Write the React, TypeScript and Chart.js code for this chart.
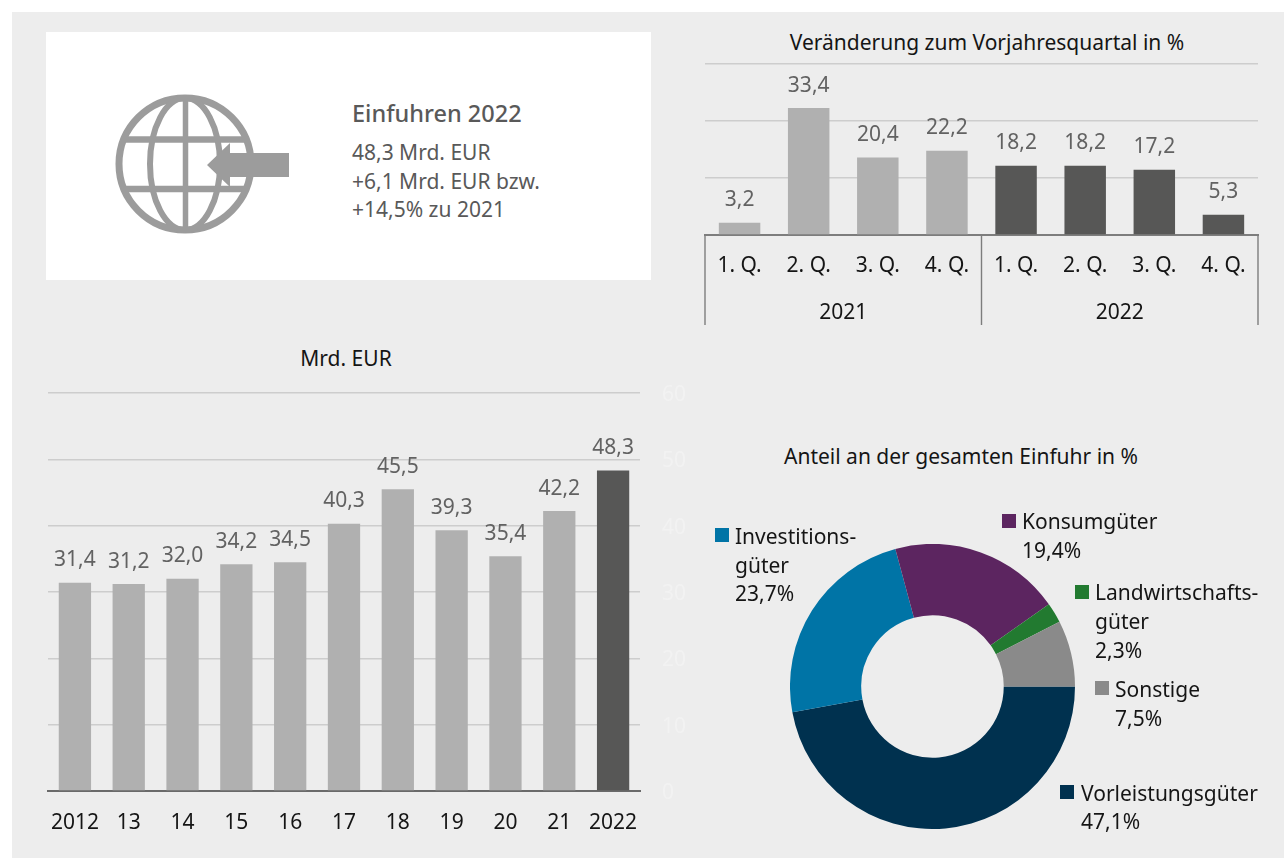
import React, { useEffect, useRef } from "react";
import { Chart, registerables } from "chart.js";

Chart.register(...registerables);

const yearLabels = ["2012", "13", "14", "15", "16", "17", "18", "19", "20", "21", "2022"];
const yearValues = [31.4, 31.2, 32.0, 34.2, 34.5, 40.3, 45.5, 39.3, 35.4, 42.2, 48.3];
const quarterLabels = ["1. Q.", "2. Q.", "3. Q.", "4. Q.", "1. Q.", "2. Q.", "3. Q.", "4. Q."];
const quarterGroups = ["2021", "2022"];
const quarterValues = [3.2, 33.4, 20.4, 22.2, 18.2, 18.2, 17.2, 5.3];
const shareLabels = ["Vorleistungsgüter", "Investitionsgüter", "Konsumgüter", "Landwirtschaftsgüter", "Sonstige"];
const shareValues = [47.1, 23.7, 19.4, 2.3, 7.5];

const FONT = '"Noto Sans", sans-serif';
const SIZE = 21;
const LIGHT = "#b0b0b0";
const DARK = "#575756";
const GRID = "#cdcdcd";
const TEXT = "#151515";
const SHARE_COLORS = ["#00314f", "#0074a6", "#5c2560", "#227a30", "#8a8a8a"];

const fmt = (v: number) => v.toFixed(1).replace(".", ",");

const valueLabels = {
  id: "valueLabels",
  afterDatasetsDraw(chart: any) {
    const { ctx } = chart;
    const meta = chart.getDatasetMeta(0);
    ctx.save();
    ctx.font = `${SIZE}px ${FONT}`;
    ctx.fillStyle = "#626262";
    ctx.textAlign = "center";
    ctx.textBaseline = "middle";
    meta.data.forEach((bar: any, i: number) => {
      ctx.fillText(fmt(chart.data.datasets[0].data[i]), bar.x, bar.y - 22.5);
    });
    ctx.restore();
  },
};

const groupSeparators = {
  id: "groupSeparators",
  afterDraw(chart: any) {
    const { ctx, chartArea } = chart;
    const x2 = chart.scales.x2;
    const xs = [chartArea.left, (chartArea.left + chartArea.right) / 2, chartArea.right];
    ctx.save();
    ctx.strokeStyle = "#7d7d7d";
    ctx.lineWidth = 1.4;
    xs.forEach((x) => {
      ctx.beginPath();
      ctx.moveTo(x, chartArea.bottom);
      ctx.lineTo(x, x2.bottom);
      ctx.stroke();
    });
    ctx.restore();
  },
};

const noScalePadding = (s: any) => {
  s.paddingTop = 0;
  s.paddingBottom = 0;
  s.paddingLeft = 0;
  s.paddingRight = 0;
};
const fixedHeight = (h: number) => (s: any) => {
  s.height = h;
  noScalePadding(s);
};
const fixedWidth = (w: number) => (s: any) => {
  s.width = w;
  noScalePadding(s);
};

function YearChart() {
  const ref = useRef<HTMLCanvasElement>(null);
  useEffect(() => {
    const chart = new Chart(ref.current!, {
      type: "bar",
      data: {
        labels: yearLabels,
        datasets: [
          {
            data: yearValues,
            backgroundColor: yearValues.map((_, i) => (i === yearValues.length - 1 ? DARK : LIGHT)),
            categoryPercentage: 0.6,
            barPercentage: 1,
          },
        ],
      },
      options: {
        responsive: false,
        animation: false,
        events: [],
        layout: { padding: { left: 8, top: 12, right: 0, bottom: 0 } },
        plugins: { legend: { display: false }, title: { display: false }, tooltip: { enabled: false } },
        scales: {
          x: {
            grid: { display: false, drawTicks: false },
            border: { color: "#6a6a6a", width: 2 },
            ticks: { color: TEXT, font: { family: FONT, size: SIZE }, padding: 19, maxRotation: 0, autoSkip: false },
            afterFit: fixedHeight(54),
          },
          y: {
            position: "right",
            min: 0,
            max: 60,
            grid: { color: GRID, drawTicks: false, lineWidth: 1.5 },
            border: { display: false },
            ticks: { stepSize: 10, color: "#f2f2f2", font: { family: FONT, size: SIZE }, padding: 22, labelOffset: 2 },
            afterFit: fixedWidth(60),
          },
        },
      },
      plugins: [valueLabels],
    } as any);
    return () => chart.destroy();
  }, []);
  return <canvas ref={ref} width={660} height={464} style={{ position: "absolute", left: 40, top: 381 }} />;
}

function QuarterChart() {
  const ref = useRef<HTMLCanvasElement>(null);
  useEffect(() => {
    const chart = new Chart(ref.current!, {
      type: "bar",
      data: {
        labels: quarterLabels,
        datasets: [
          {
            data: quarterValues,
            backgroundColor: quarterValues.map((_, i) => (i < 4 ? LIGHT : DARK)),
            categoryPercentage: 0.6,
            barPercentage: 1,
          },
        ],
      },
      options: {
        responsive: false,
        animation: false,
        events: [],
        layout: { padding: { left: 8, top: 8, right: 8, bottom: 5 } },
        plugins: { legend: { display: false }, title: { display: false }, tooltip: { enabled: false } },
        scales: {
          x: {
            grid: { display: false, drawTicks: false },
            border: { color: "#7d7d7d", width: 2 },
            ticks: { color: TEXT, font: { family: FONT, size: SIZE }, padding: 18, maxRotation: 0, autoSkip: false },
            afterFit: fixedHeight(45),
          },
          x2: {
            type: "category",
            labels: quarterGroups,
            position: "bottom",
            grid: { display: false, drawTicks: false },
            border: { display: false },
            ticks: { color: TEXT, font: { family: FONT, size: SIZE }, padding: 20, maxRotation: 0 },
            afterFit: fixedHeight(45),
          },
          y: {
            min: 0,
            max: 45,
            grid: { color: GRID, drawTicks: false, lineWidth: 1.5 },
            border: { display: false },
            ticks: { stepSize: 15, display: false },
          },
        },
      },
      plugins: [valueLabels, groupSeparators],
    } as any);
    return () => chart.destroy();
  }, []);
  return <canvas ref={ref} width={569} height={274} style={{ position: "absolute", left: 697, top: 56 }} />;
}

function ShareChart() {
  const ref = useRef<HTMLCanvasElement>(null);
  useEffect(() => {
    const chart = new Chart(ref.current!, {
      type: "doughnut",
      data: {
        labels: shareLabels,
        datasets: [{ data: shareValues, backgroundColor: SHARE_COLORS, borderWidth: 0 }],
      },
      options: {
        responsive: false,
        animation: false,
        events: [],
        rotation: 90,
        cutout: "50%",
        plugins: { legend: { display: false }, title: { display: false }, tooltip: { enabled: false } },
      },
    } as any);
    return () => chart.destroy();
  }, []);
  return <canvas ref={ref} width={285} height={285} style={{ position: "absolute", left: 790, top: 544 }} />;
}

function Text({ x, cy, children, center, color = TEXT, size = SIZE, weight = 400 }: any) {
  return (
    <div
      style={{
        position: "absolute",
        left: center ? x - 300 : x,
        width: center ? 600 : undefined,
        top: cy - 15,
        height: 30,
        lineHeight: "30px",
        fontSize: size,
        fontWeight: weight,
        color,
        textAlign: center ? "center" : "left",
        whiteSpace: "nowrap",
      }}
    >
      {children}
    </div>
  );
}

function LegendEntry({ sx, sy, tx, lines, cys, color }: any) {
  return (
    <>
      <div style={{ position: "absolute", left: sx, top: sy, width: 14, height: 14, background: color }} />
      {lines.map((l: string, i: number) => (
        <Text key={i} x={tx} cy={cys[i]}>
          {l}
        </Text>
      ))}
    </>
  );
}

function Globe() {
  const c = "#9c9c9c";
  return (
    <svg width={200} height={160} viewBox="0 0 200 160" style={{ position: "absolute", left: 100, top: 84 }}>
      <g fill="none" stroke={c}>
        <ellipse cx={85} cy={80} rx={66} ry={66} strokeWidth={7} />
        <ellipse cx={85} cy={80} rx={35} ry={66} strokeWidth={6} />
        <line x1={85.5} y1={14} x2={85.5} y2={146} strokeWidth={5.5} />
        <line x1={24} y1={55.5} x2={146} y2={55.5} strokeWidth={6.5} />
        <line x1={24} y1={105} x2={146} y2={105} strokeWidth={6.5} />
      </g>
      <polygon points="107,81 130,59 130,69 189,69 189,93 130,93 130,103" fill={c} />
    </svg>
  );
}

export default function App() {
  return (
    <div style={{ position: "absolute", left: 0, top: 0, width: 1284, height: 858, overflow: "hidden", background: "#fff", fontFamily: FONT }}>
      <div style={{ position: "absolute", left: 12, top: 12, right: 0, bottom: 0, background: "#ededed" }} />
      <div style={{ position: "absolute", left: 46, top: 32, width: 605, height: 248, background: "#fff" }} />
      <Globe />
      <Text x={352} cy={113} size={23.5} color="#595959" weight={500}>Einfuhren 2022</Text>
      <Text x={352} cy={152} color="#595959">48,3 Mrd. EUR</Text>
      <Text x={352} cy={181} color="#595959">+6,1 Mrd. EUR bzw.</Text>
      <Text x={352} cy={209} color="#595959">+14,5% zu 2021</Text>

      <Text x={987} cy={42} center>Veränderung zum Vorjahresquartal in %</Text>
      <Text x={346} cy={358} center>Mrd. EUR</Text>
      <Text x={961} cy={456} center>Anteil an der gesamten Einfuhr in %</Text>

      <YearChart />
      <QuarterChart />
      <ShareChart />

      <LegendEntry sx={715} sy={528} tx={735} lines={["Investitions-", "güter", "23,7%"]} cys={[536, 565, 593]} color={SHARE_COLORS[1]} />
      <LegendEntry sx={1002} sy={514} tx={1022} lines={["Konsumgüter", "19,4%"]} cys={[521, 550]} color={SHARE_COLORS[2]} />
      <LegendEntry sx={1075} sy={585} tx={1095} lines={["Landwirtschafts-", "güter", "2,3%"]} cys={[592, 621, 650]} color={SHARE_COLORS[3]} />
      <LegendEntry sx={1095} sy={681} tx={1115} lines={["Sonstige", "7,5%"]} cys={[689, 718]} color={SHARE_COLORS[4]} />
      <LegendEntry sx={1060} sy={785} tx={1081} lines={["Vorleistungsgüter", "47,1%"]} cys={[793, 821]} color={SHARE_COLORS[0]} />
    </div>
  );
}
